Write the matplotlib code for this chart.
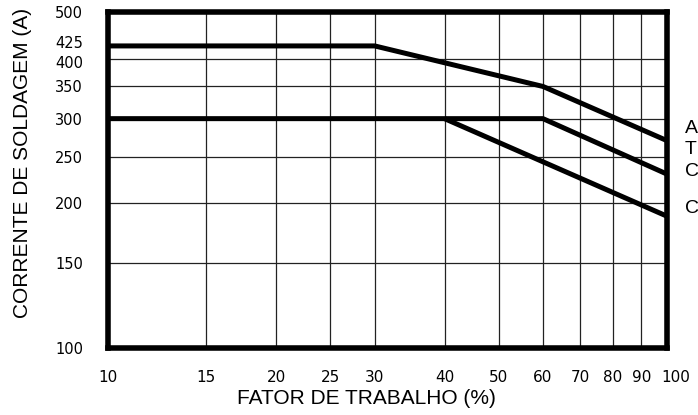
import matplotlib
matplotlib.use('Agg')
import matplotlib.pyplot as plt
import matplotlib.transforms as mtransforms

# duty cycle (%) vs welding current (A)
duty_a = [10, 30, 60, 100]
amps_a = [425, 425, 350, 270]
duty_b = [10, 60, 100]
amps_b = [300, 300, 230]
duty_c = [40, 100]
amps_c = [300, 188]

x_ticks = [10, 15, 20, 25, 30, 40, 50, 60, 70, 80, 90, 100]
y_ticks = [100, 150, 200, 250, 300, 350, 400, 425, 500]
x_grid = [15, 20, 25, 30, 40, 50, 60, 70, 80, 90]
y_grid = [150, 200, 250, 300, 350, 400]

side_labels = ['A', 'T', 'C', 'C']
side_label_y = [286, 259, 233, 195]

W, H = 698, 415
fig = plt.figure(figsize=(W / 100, H / 100), dpi=100)
ax = fig.add_axes([108 / W, (H - 348) / H, (667 - 108) / W, (348 - 12) / H])

ax.set_xscale('log')
ax.set_yscale('log')
ax.set_xlim(10, 100)
ax.set_ylim(100, 500)

for g in x_grid:
    ax.axvline(g, color='#222222', lw=0.9, zorder=1)
for g in y_grid:
    ax.axhline(g, color='#222222', lw=0.9, zorder=1)

for xs, ys in [(duty_a, amps_a), (duty_b, amps_b), (duty_c, amps_c)]:
    ax.plot(xs, ys, color='black', lw=3.6, solid_capstyle='butt', zorder=3)

ax.minorticks_off()
ax.set_xticks(x_ticks)
ax.set_xticklabels([str(v) for v in x_ticks])
ax.set_yticks(y_ticks)
ax.set_yticklabels([str(v) for v in y_ticks])
ax.tick_params(axis='x', length=0, labelsize=11, pad=16)
ax.tick_params(axis='y', length=0, labelsize=10.5, pad=18)
for lab in ax.get_xticklabels() + ax.get_yticklabels():
    lab.set_family('DejaVu Sans')

# nudge crowded labels apart (400/425, and 100 clear of the spine)
def nudge(lab, dx, dy):
    lab.set_transform(lab.get_transform() +
                      mtransforms.ScaledTranslation(dx / 100, dy / 100, fig.dpi_scale_trans))

ylabs = ax.get_yticklabels()
nudge(ylabs[y_ticks.index(425)], 0, 4)
nudge(ylabs[y_ticks.index(400)], 0, -3)
nudge(ax.get_xticklabels()[-1], 9, 0)

for s in ax.spines.values():
    s.set_linewidth(4)
    s.set_zorder(4)

ax.set_xlabel('FATOR DE TRABALHO (%)', family='Liberation Sans', fontsize=15)
ax.set_ylabel('CORRENTE DE SOLDAGEM (A)', family='Liberation Sans', fontsize=15)
ax.xaxis.set_label_coords(0.463, -0.122)
ax.yaxis.set_label_coords(-0.136, 0.551)

trans = mtransforms.blended_transform_factory(ax.transAxes, ax.transData)
for txt, yv in zip(side_labels, side_label_y):
    ax.text(1.032, yv, txt, transform=trans, ha='left', va='center',
            family='Liberation Sans', fontsize=14, clip_on=False)

fig.savefig('out.png', dpi=100)
